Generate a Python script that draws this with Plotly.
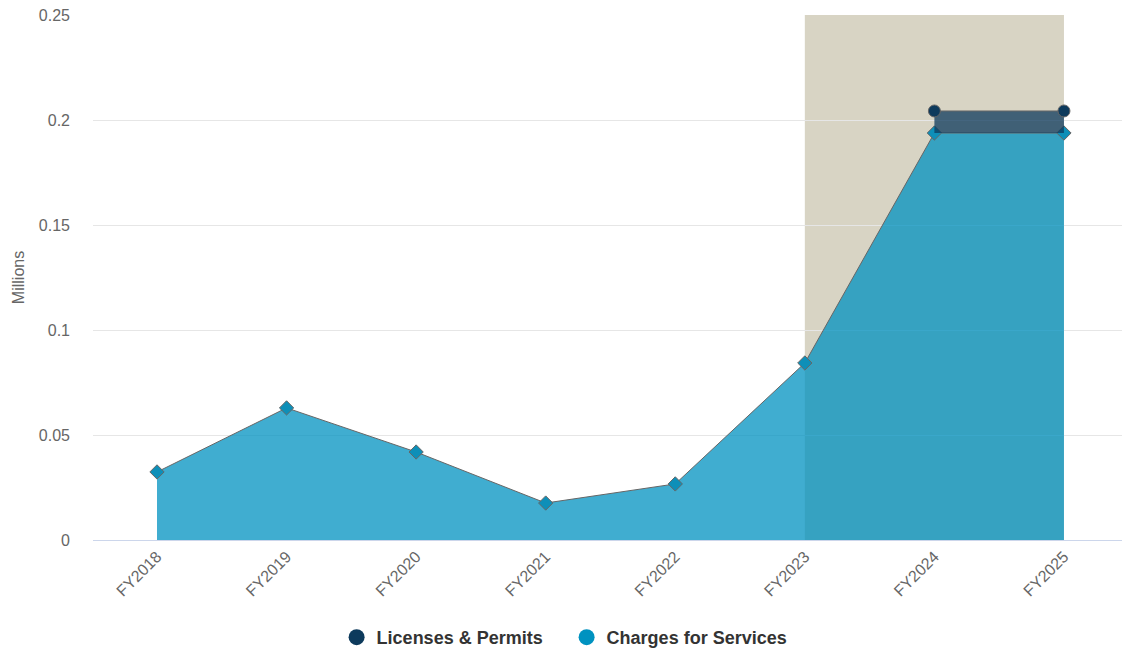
import plotly.graph_objects as go

# Fiscal years on the category axis
years = ["FY2018", "FY2019", "FY2020", "FY2021", "FY2022", "FY2023", "FY2024", "FY2025"]

# Revenue by source, in millions
charges_for_services = [0.0324, 0.0629, 0.0419, 0.0176, 0.0267, 0.0843, 0.1938, 0.1938]
licenses_permits = [None, None, None, None, None, None, 0.0105, 0.0105]

# Y axis ticks
y_ticks = [0, 0.05, 0.1, 0.15, 0.2, 0.25]
y_tick_text = ["0", "0.05", "0.1", "0.15", "0.2", "0.25"]

# Projected period highlighted behind the series
band_start, band_end = "FY2023", "FY2025"

TEAL = "#0092c0"
NAVY = "#0d3a5c"
LINE = "#666666"
FONT = "Liberation Sans, Arial, sans-serif"

# Licenses stack on top of charges only where they exist
lic_x = [y for y, v in zip(years, licenses_permits) if v is not None]
lic_base = [c for c, v in zip(charges_for_services, licenses_permits) if v is not None]
lic_top = [c + v for c, v in zip(charges_for_services, licenses_permits) if v is not None]

fig = go.Figure()

fig.add_trace(go.Scatter(
    x=years, y=charges_for_services, name="Charges for Services",
    mode="lines+markers", fill="tozeroy", fillcolor="rgba(0,146,192,0.75)",
    line=dict(color=LINE, width=1),
    marker=dict(symbol="diamond", size=11, color="#0e8fb8", line=dict(color=LINE, width=1)),
    showlegend=False,
))

fig.add_trace(go.Scatter(
    x=lic_x, y=lic_base, mode="lines", line=dict(width=0, color="rgba(0,0,0,0)"),
    showlegend=False, hoverinfo="skip",
))

fig.add_trace(go.Scatter(
    x=lic_x, y=lic_top, name="Licenses & Permits",
    mode="lines+markers", fill="tonexty", fillcolor="rgba(13,58,92,0.75)",
    line=dict(color=LINE, width=1),
    marker=dict(symbol="circle", size=12, color=NAVY, line=dict(color=LINE, width=1)),
    showlegend=False,
))

# Legend entries (circle swatches)
fig.add_trace(go.Scatter(
    x=[None], y=[None], mode="markers", name="Licenses & Permits",
    marker=dict(symbol="circle", size=17, color=NAVY),
))
fig.add_trace(go.Scatter(
    x=[None], y=[None], mode="markers", name="Charges for Services",
    marker=dict(symbol="circle", size=17, color=TEAL),
))

fig.add_shape(
    type="rect", xref="x", yref="paper",
    x0=years.index(band_start), x1=years.index(band_end), y0=0, y1=1,
    fillcolor="#d8d4c4", line=dict(width=0), layer="between",
)

fig.update_layout(
    width=1122, height=656,
    margin=dict(l=93, r=0, t=15, b=116),
    paper_bgcolor="white", plot_bgcolor="white",
    font=dict(family=FONT, color="#666666", size=16),
    xaxis=dict(
        type="category", categoryorder="array", categoryarray=years,
        range=[-0.494, 7.448], tickangle=-45,
        showgrid=False, showline=True, linecolor="#ccd6eb", linewidth=1,
        ticks="", tickfont=dict(size=16, color="#666666"), zeroline=False,
    ),
    yaxis=dict(
        range=[0, 0.25], tickvals=y_ticks, ticktext=y_tick_text,
        showgrid=True, gridcolor="#e6e6e6", gridwidth=1, zeroline=False,
        tickfont=dict(size=16, color="#666666"), ticks="", ticklen=0,
        ticklabelstandoff=22,
        title=dict(text="Millions", font=dict(size=16, color="#666666"), standoff=10),
    ),
    legend=dict(
        orientation="h", xref="container", yref="container",
        x=0.505, xanchor="center", y=0.0, yanchor="bottom",
        font=dict(size=18, color="#333333", family=FONT, weight="bold"),
        itemsizing="trace", traceorder="normal",
        entrywidth=185, entrywidthmode="pixels",
    ),
    showlegend=True,
)

fig.write_html("out.html")
